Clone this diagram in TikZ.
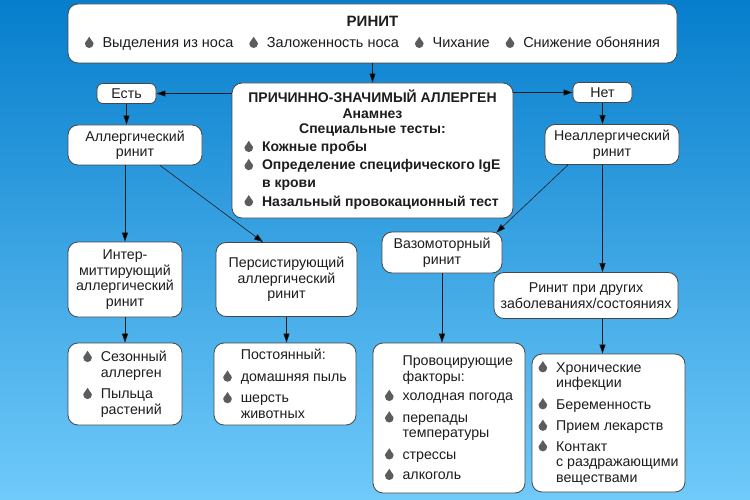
\documentclass[tikz,border=0pt]{standalone}
\usepackage{fontspec}
\setmainfont{Liberation Sans}
\usetikzlibrary{arrows.meta}

\definecolor{bgtop}{RGB}{6,126,204}
\definecolor{bgmid}{RGB}{40,162,232}
\definecolor{bgbot}{RGB}{112,202,250}
\definecolor{boxgray}{RGB}{70,70,72}
\definecolor{textgray}{RGB}{30,28,29}
\definecolor{dropgray}{RGB}{92,92,96}

\newcommand{\drop}{\tikz[baseline=0pt]\fill[dropgray, draw=none, sharp corners]
    (0pt,11pt) .. controls (0.8pt,8pt) and (4.3pt,6.3pt) .. (4.3pt,4pt)
    arc[start angle=0, end angle=-180, radius=4.3pt]
    .. controls (-4.3pt,6.3pt) and (-0.8pt,8pt) .. (0pt,11pt);}
\newcommand{\bul}{\drop\hspace{9pt}}
\newcommand{\dropind}{\hphantom{\bul}}

\begin{document}
\begin{tikzpicture}[
    x = 1pt,
    y = -1pt,
    >={Triangle[length=9pt,width=6pt]},
    block/.style = {draw=boxgray, fill=white, line width=0.8pt,
              rounded corners=10pt, text=textgray, inner sep=0pt,
              align=center, font=\fontsize{14.2}{15.5}\selectfont},
    tag/.style = {block, rounded corners=6pt},
    link/.style = {->, draw=textgray, line width=0.6pt},
    ]

\shade[top color=bgtop, middle color=bgmid, bottom color=bgbot] (0,0) rectangle (750,500);

% top row
\node[block, minimum width=609pt, minimum height=59pt, font=\fontsize{14.5}{21}\selectfont] (rhinitis) at (372.5,33.5)
    {\textbf{\fontsize{15}{21}\selectfont РИНИТ}\\
     \bul Выделения из носа\hspace{16pt}\bul Заложенность носа\hspace{16pt}\bul Чихание\hspace{16pt}\bul Снижение обоняния};
\node[block, minimum width=281pt, minimum height=135pt, font=\fontsize{14}{15.5}\selectfont\bfseries] (allergen) at (372.5,150.5)
    {ПРИЧИННО-ЗНАЧИМЫЙ АЛЛЕРГЕН\\ Анамнез\\ Специальные тесты:\\[3pt]
     \begin{tabular}{@{}l@{}}
     \bul Кожные пробы\\[2.5pt]
     \bul Определение специфического IgE\\[2.5pt]
     \dropind в крови\\[2.5pt]
     \bul Назальный провокационный тест
     \end{tabular}};
\node[tag, minimum width=59pt, minimum height=20pt] (yes) at (126.5,93.5){Есть};
\node[tag, minimum width=59pt, minimum height=20pt] (no) at (602.5,92.5){Нет};

% second row
\node[block, minimum width=134pt, minimum height=40pt] (allergic) at (135,145){Аллергический\\ ринит};
\node[block, minimum width=134pt, minimum height=40pt] (nonallergic) at (612,144.5){Неаллергический\\ ринит};

% third row
\node[block, minimum width=114pt, minimum height=75pt] (intermittent) at (125,279.5){Интер-\\ миттирующий\\ аллергический\\ ринит};
\node[block, minimum width=141pt, minimum height=74pt] (persistent) at (286.5,279.5){Персистирующий\\ аллергический\\ ринит};
\node[block, minimum width=120pt, minimum height=41pt] (vasomotor) at (442,252.5){Вазомоторный\\ ринит};
\node[block, minimum width=184pt, minimum height=46pt] (other) at (586,295.5){Ринит при других\\ заболеваниях/состояниях};

% bottom row
\node[block, minimum width=114pt, minimum height=82pt, align=left] (seasonal) at (125,384)
    {\bul Сезонный\\ \dropind аллерген\\[6pt] \bul Пыльца\\ \dropind растений};
\node[block, minimum width=142pt, minimum height=82pt, align=left] (constant) at (285,384)
    {\dropind Постоянный:\\[6pt] \bul домашняя пыль\\[6pt] \bul шерсть\\ \dropind животных};
\node[block, minimum width=152pt, minimum height=150pt, align=left] (factors) at (449,418)
    {\dropind Провоцирующие\\ \dropind факторы:\\[4pt] \bul холодная погода\\[6pt] \bul перепады\\ \dropind температуры\\[6pt]
     \bul стрессы\\[5pt] \bul алкоголь};
\node[block, minimum width=153pt, minimum height=138pt, align=left] (chronic) at (608.5,423)
    {\bul Хронические\\ \dropind инфекции\\[6pt] \bul Беременность\\[6pt] \bul Прием лекарств\\[5pt]
     \bul Контакт\\ \dropind с раздражающими\\ \dropind веществами};

% connectors
\draw [link] (rhinitis) -- (allergen);
\draw [link] (allergen.west |- yes.east) -- (yes.east);
\draw [link] (allergen.east |- no.west) -- (no.west);
\draw [link] (yes) -- (yes |- allergic.north);
\draw [link] (no) -- (no |- nonallergic.north);
\draw [link] (intermittent |- allergic.south) -- (intermittent);
\draw [link] ([xshift=25pt]allergic.south) -- ([xshift=-23.5pt]persistent.north);
\draw [link] ([xshift=-44pt]nonallergic.south) -- ([xshift=-6pt,yshift=-1pt]vasomotor.north east);
\draw [link] (no |- nonallergic.south) -- (no |- other.north);
\draw [link] (intermittent) -- (seasonal);
\draw [link] (persistent.south) -- (persistent.south |- constant.north);
\draw [link] (vasomotor.south) -- (vasomotor.south |- factors.north);
\draw [link] (no |- other.south) -- (no |- chronic.north);

\end{tikzpicture}
\end{document}
